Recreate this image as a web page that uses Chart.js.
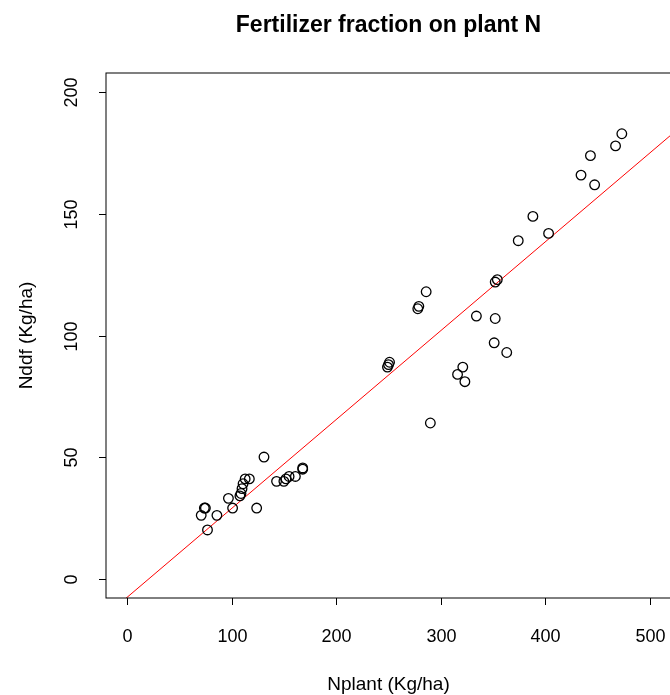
<!DOCTYPE html>
<html>
<head>
<meta charset="utf-8">
<script src="https://cdn.jsdelivr.net/npm/chart.js@4"></script>
<style>
  html, body { margin: 0; padding: 0; background: #fff; overflow: hidden; }
  #wrap { width: 700px; height: 695px; }
</style>
</head>
<body>
<div id="wrap"><canvas id="chart" width="700" height="695"></canvas></div>
<script>
const nplant = [71, 74, 75, 77, 86, 97, 101, 108, 109, 110, 111, 113, 117, 124, 131,
  143, 150, 152, 155, 161, 168, 168, 249, 250, 251, 278, 279, 286, 290,
  316, 321, 323, 334, 351, 352, 352, 354, 363, 374, 388, 403, 434, 443, 447, 467, 473];
const nddf = [26, 29, 29, 20, 26, 33, 29, 34, 35, 37, 39, 41, 41, 29, 50,
  40, 40, 41, 42, 42, 45, 45.5, 87, 88, 89, 111, 112, 118, 64,
  84, 87, 81, 108, 97, 107, 122, 123, 93, 139, 149, 142, 166, 174, 162, 178, 183];

// fitted line end points (abline across the whole plot)
const fitX = [-20, 520];
const fitY = [-15.1, 182.5];

const xTicks = [0, 100, 200, 300, 400, 500];
const yTicks = [0, 50, 100, 150, 200];

const FONT = '"Liberation Sans", Arial, Helvetica, sans-serif';

// R style frame, ticks and labels, drawn through the chart scales
const rAxes = {
  id: 'rAxes',
  afterDraw(chart) {
    const { ctx, chartArea: a, scales: { x, y } } = chart;
    ctx.save();
    ctx.strokeStyle = '#000';
    ctx.lineWidth = 1;
    ctx.strokeRect(a.left, a.top, a.right - a.left, a.bottom - a.top);

    ctx.fillStyle = '#000';
    ctx.font = '18px ' + FONT;
    ctx.textAlign = 'center';
    ctx.textBaseline = 'alphabetic';
    xTicks.forEach(v => {
      const px = Math.round(x.getPixelForValue(v)) + 0.5;
      ctx.beginPath();
      ctx.moveTo(px, a.bottom);
      ctx.lineTo(px, a.bottom + 7);
      ctx.stroke();
      ctx.fillText(String(v), px, a.bottom + 44);
    });
    yTicks.forEach(v => {
      const py = Math.round(y.getPixelForValue(v)) + 0.5;
      ctx.beginPath();
      ctx.moveTo(a.left, py);
      ctx.lineTo(a.left - 7, py);
      ctx.stroke();
      ctx.save();
      ctx.translate(a.left - 29, py);
      ctx.rotate(-Math.PI / 2);
      ctx.fillText(String(v), 0, 0);
      ctx.restore();
    });

    const cx = (a.left + a.right) / 2;
    const cy = (a.top + a.bottom) / 2;
    ctx.font = '19px ' + FONT;
    ctx.fillText('Nplant (Kg/ha)', cx, 690);
    ctx.save();
    ctx.translate(32, cy);
    ctx.rotate(-Math.PI / 2);
    ctx.fillText('Nddf (Kg/ha)', 0, 0);
    ctx.restore();

    ctx.font = 'bold 23px ' + FONT;
    ctx.fillText('Fertilizer fraction on plant N', cx, 32);
    ctx.restore();
  }
};

new Chart(document.getElementById('chart'), {
  type: 'scatter',
  data: {
    datasets: [
      {
        label: 'obs',
        data: nplant.map((v, i) => ({ x: v, y: nddf[i] })),
        pointStyle: 'circle',
        pointRadius: 4.8,
        pointHoverRadius: 4.8,
        borderWidth: 1.3,
        borderColor: '#000',
        backgroundColor: 'rgba(0,0,0,0)'
      },
      {
        type: 'line',
        label: 'fit',
        data: fitX.map((v, i) => ({ x: v, y: fitY[i] })),
        borderColor: '#ff0000',
        borderWidth: 1,
        pointRadius: 0,
        fill: false
      }
    ]
  },
  options: {
    responsive: false,
    animation: false,
    layout: { padding: { left: 106, top: 73, right: 29, bottom: 97 } },
    scales: {
      x: { type: 'linear', min: -20, max: 520, display: false },
      y: { type: 'linear', min: -8, max: 208, display: false }
    },
    plugins: {
      legend: { display: false },
      tooltip: { enabled: false },
      title: { display: false }
    }
  },
  plugins: [rAxes]
});
</script>
</body>
</html>
